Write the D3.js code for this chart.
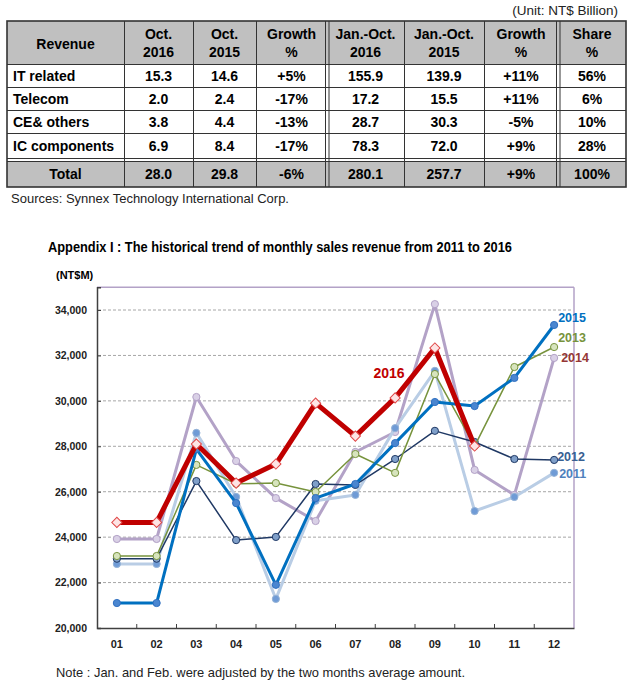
<!DOCTYPE html>
<html>
<head>
<meta charset="utf-8">
<script src="https://cdn.jsdelivr.net/npm/d3@7"></script>
<style>
  body { margin: 0; background: #fff; }
  svg { font-family: "Liberation Sans", Arial, sans-serif; }
</style>
</head>
<body>
<div id="chart"></div>
<script>
// ---- table data ----
let tableHeader = [["Revenue"], ["Oct.", "2016"], ["Oct.", "2015"], ["Growth", "%"],
    ["Jan.-Oct.", "2016"], ["Jan.-Oct.", "2015"], ["Growth", "%"], ["Share", "%"]];
let tableCategories = ["IT related", "Telecom", "CE& others", "IC components"];
let oct2016 = ["15.3", "2.0", "3.8", "6.9"];
let oct2015 = ["14.6", "2.4", "4.4", "8.4"];
let octGrowth = ["+5%", "-17%", "-13%", "-17%"];
let ytd2016 = ["155.9", "17.2", "28.7", "78.3"];
let ytd2015 = ["139.9", "15.5", "30.3", "72.0"];
let ytdGrowth = ["+11%", "+11%", "-5%", "+9%"];
let share = ["56%", "6%", "10%", "28%"];
let totalRow = ["Total", "28.0", "29.8", "-6%", "280.1", "257.7", "+9%", "100%"];

// ---- chart data ----
let months = ["01", "02", "03", "04", "05", "06", "07", "08", "09", "10", "11", "12"];
let yTicks = [20000, 22000, 24000, 26000, 28000, 30000, 32000, 34000];
let rev2011 = [22820, 22820, 28590, 25770, 21280, 25600, 25860, 28800, 31320, 25150, 25770, 26830];
let rev2012 = [23050, 23050, 26470, 23870, 24010, 26340, 26300, 27440, 28680, 28190, 27440, 27400];
let rev2013 = [23170, 23170, 27180, 26350, 26380, 25990, 27660, 26830, 31180, 28010, 31490, 32370];
let rev2014 = [23920, 23920, 30170, 27350, 25720, 24710, 27750, 28630, 34260, 26960, 25860, 31890];
let rev2015 = [21100, 21100, 27880, 25500, 21900, 25720, 26340, 28140, 29950, 29770, 31010, 33340];
let rev2016 = [24650, 24650, 28100, 26380, 27220, 29900, 28450, 30130, 32330, 28010];

let W = 633, H = 683;
let svg = d3.select("#chart").append("svg")
    .attr("width", W)
    .attr("height", H);

/* ---------- table ---------- */
let colX = [7, 124, 193, 256, 327, 404, 484, 558, 626];
let rowY = [21, 64, 87, 110, 133, 158, 161, 187];
let gray = "#c0c0c0";
let tbl = svg.append("g");

let bodyRows = tableCategories.map((c, i) =>
    [c, oct2016[i], oct2015[i], octGrowth[i], ytd2016[i], ytd2015[i], ytdGrowth[i], share[i]]);

tbl.append("text")
    .attr("x", 618).attr("y", 15)
    .attr("text-anchor", "end")
    .attr("font-size", 13.5)
    .attr("fill", "#222")
    .text("(Unit: NT$ Billion)");

// backgrounds
tbl.append("rect").attr("x", colX[0]).attr("y", rowY[0])
    .attr("width", colX[8] - colX[0]).attr("height", rowY[1] - rowY[0]).attr("fill", gray);
tbl.append("rect").attr("x", colX[0]).attr("y", rowY[6])
    .attr("width", colX[8] - colX[0]).attr("height", rowY[7] - rowY[6]).attr("fill", gray);

// horizontal lines
[rowY[1], rowY[2], rowY[3], rowY[4], rowY[5], rowY[6]].forEach(y => {
    tbl.append("line").attr("x1", colX[0]).attr("x2", colX[8])
        .attr("y1", y + 0.5).attr("y2", y + 0.5)
        .attr("stroke", "#333").attr("stroke-width", 1);
});

// vertical lines
colX.slice(1, 8).forEach((x, i) => {
    let dbl = (x === 327 || x === 558);
    let xs = dbl ? [x - 2, x + 1.5] : [x];
    xs.forEach(xx => {
        tbl.append("line").attr("x1", xx + 0.5).attr("x2", xx + 0.5)
            .attr("y1", rowY[0]).attr("y2", rowY[7])
            .attr("stroke", "#333").attr("stroke-width", 1);
    });
});

// outer border
tbl.append("rect").attr("x", colX[0]).attr("y", rowY[0])
    .attr("width", colX[8] - colX[0]).attr("height", rowY[7] - rowY[0])
    .attr("fill", "none").attr("stroke", "#333").attr("stroke-width", 1.6);

// header text
tableHeader.forEach((h, j) => {
    let cx = (colX[j] + colX[j + 1]) / 2;
    if (h.length === 1) {
        tbl.append("text").attr("x", cx).attr("y", 49)
            .attr("text-anchor", "middle").attr("font-size", 14).attr("font-weight", "bold")
            .text(h[0]);
    } else {
        tbl.append("text").attr("x", cx).attr("y", 39)
            .attr("text-anchor", "middle").attr("font-size", 14).attr("font-weight", "bold")
            .text(h[0]);
        tbl.append("text").attr("x", cx).attr("y", 57)
            .attr("text-anchor", "middle").attr("font-size", 14).attr("font-weight", "bold")
            .text(h[1]);
    }
});

// body text
bodyRows.forEach((r, i) => {
    let cy = (rowY[i + 1] + rowY[i + 2]) / 2 + 5;
    r.forEach((v, j) => {
        let t = tbl.append("text").attr("y", cy)
            .attr("font-size", 14).attr("font-weight", "bold").text(v);
        if (j === 0) t.attr("x", 13);
        else t.attr("x", (colX[j] + colX[j + 1]) / 2).attr("text-anchor", "middle");
    });
});
totalRow.forEach((v, j) => {
    tbl.append("text").attr("y", (rowY[6] + rowY[7]) / 2 + 5)
        .attr("x", (colX[j] + colX[j + 1]) / 2).attr("text-anchor", "middle")
        .attr("font-size", 14).attr("font-weight", "bold").text(v);
});

tbl.append("text").attr("x", 11).attr("y", 203)
    .attr("font-size", 13).attr("fill", "#222")
    .text("Sources: Synnex Technology International Corp.");

/* ---------- chart ---------- */
svg.append("text").attr("x", 48).attr("y", 252)
    .attr("font-size", 14).attr("font-weight", "bold")
    .attr("textLength", 464).attr("lengthAdjust", "spacingAndGlyphs")
    .text("Appendix I : The historical trend of monthly sales revenue from 2011 to 2016");

svg.append("text").attr("x", 56).attr("y", 279)
    .attr("font-size", 11).attr("font-weight", "bold")
    .text("(NT$M)");

let x = d3.scaleBand().domain(months).range([97, 574]);
let y = d3.scaleLinear().domain([20000, 35000]).range([628, 287.3]);

let plot = svg.append("g");

// gridlines
plot.selectAll(".grid").data(yTicks.filter(d => d > 20000))
    .enter().append("line")
    .attr("x1", 98).attr("x2", 573)
    .attr("y1", d => y(d)).attr("y2", d => y(d))
    .attr("stroke", "#a6a6a6").attr("stroke-width", 1)
    .attr("stroke-dasharray", "3,2");

// frame: top & right lavender
plot.append("line").attr("x1", 97).attr("x2", 574).attr("y1", y(35000)).attr("y2", y(35000))
    .attr("stroke", "#b3a2c7").attr("stroke-width", 1.5);
plot.append("line").attr("x1", 574).attr("x2", 574).attr("y1", y(35000)).attr("y2", y(20000))
    .attr("stroke", "#b3a2c7").attr("stroke-width", 1.5);

// y axis
let yAxis = d3.axisLeft(y).tickValues(yTicks).tickSize(-4).tickPadding(10)
    .tickFormat(d3.format(","));
let yg = plot.append("g").attr("transform", "translate(97,0)").call(yAxis);
yg.select(".domain").attr("stroke", "#404040").attr("stroke-width", 1.5);
yg.selectAll(".tick line").attr("stroke", "#404040");
yg.selectAll(".tick text").attr("font-size", 10.5).attr("font-weight", "bold")
    .attr("fill", "#222").attr("font-family", "Liberation Sans, Arial, sans-serif");

// x axis
let xAxis = d3.axisBottom(x).tickSize(0).tickPadding(12);
let xg = plot.append("g").attr("transform", "translate(0,628)").call(xAxis);
xg.select(".domain").attr("stroke", "#404040").attr("stroke-width", 1.5);
xg.selectAll(".tick text").attr("font-size", 11).attr("font-weight", "bold")
    .attr("fill", "#222").attr("font-family", "Liberation Sans, Arial, sans-serif");
// inward ticks at band boundaries
plot.selectAll(".xb").data(months.slice(1))
    .enter().append("line")
    .attr("x1", d => x(d)).attr("x2", d => x(d))
    .attr("y1", 628).attr("y2", 624)
    .attr("stroke", "#404040");

let cx = (d, i) => x(months[i]) + x.bandwidth() / 2;

let series = [
    {name: "2014", values: rev2014, color: "#b3a2c7", width: 3, fill: "#d9d0e6", mstroke: "#b3a2c7"},
    {name: "2011", values: rev2011, color: "#b9cde5", width: 3, fill: "#6f9bd6", mstroke: "#95b3d7"},
    {name: "2012", values: rev2012, color: "#1f3864", width: 1.5, fill: "#7f9fc9", mstroke: "#1f3864"},
    {name: "2013", values: rev2013, color: "#77933c", width: 1.5, fill: "#d7e4bd", mstroke: "#77933c"},
    {name: "2015", values: rev2015, color: "#0070c0", width: 3, fill: "#4a86d0", mstroke: "#2f6fc0"}
];

let line = d3.line().x(cx).y(d => y(d));

series.forEach(s => {
    plot.append("path").datum(s.values)
        .attr("d", line)
        .attr("fill", "none")
        .attr("stroke", s.color)
        .attr("stroke-width", s.width)
        .attr("stroke-linejoin", "round");
    plot.selectAll(".m" + s.name).data(s.values)
        .enter().append("circle")
        .attr("cx", cx).attr("cy", d => y(d))
        .attr("r", 3.6)
        .attr("fill", s.fill)
        .attr("stroke", s.mstroke)
        .attr("stroke-width", 1);
});

// 2016 on top
plot.append("path").datum(rev2016)
    .attr("d", line)
    .attr("fill", "none")
    .attr("stroke", "#c00000")
    .attr("stroke-width", 5)
    .attr("stroke-linejoin", "round");
plot.selectAll(".m2016").data(rev2016)
    .enter().append("path")
    .attr("d", d3.symbol().type(d3.symbolSquare).size(52))
    .attr("transform", (d, i) => `translate(${cx(d, i)},${y(d)}) rotate(45)`)
    .attr("fill", "#fde4e4")
    .attr("stroke", "#e04848")
    .attr("stroke-width", 1);

// series labels
let labelPos = [
    {text: "2016", month: "07", dx: 18, value: 31220, color: "#c00000", size: 14},
    {text: "2015", month: "12", dx: 4, value: 33690, color: "#0070c0", size: 12.5},
    {text: "2013", month: "12", dx: 4, value: 32810, color: "#77933c", size: 12.5},
    {text: "2014", month: "12", dx: 7, value: 31930, color: "#953735", size: 12.5},
    {text: "2012", month: "12", dx: 3, value: 27570, color: "#376092", size: 12.5},
    {text: "2011", month: "12", dx: 5, value: 26820, color: "#4f81bd", size: 12.5}
];
labelPos.forEach(l => {
    plot.append("text")
        .attr("x", x(l.month) + x.bandwidth() / 2 + l.dx)
        .attr("y", y(l.value) + 4.5)
        .attr("font-size", l.size).attr("font-weight", "bold")
        .attr("fill", l.color)
        .text(l.text);
});

svg.append("text").attr("x", 56).attr("y", 677)
    .attr("font-size", 13).attr("fill", "#222")
    .attr("textLength", 409).attr("lengthAdjust", "spacingAndGlyphs")
    .text("Note : Jan. and Feb. were adjusted by the two months average amount.");
</script>
</body>
</html>
